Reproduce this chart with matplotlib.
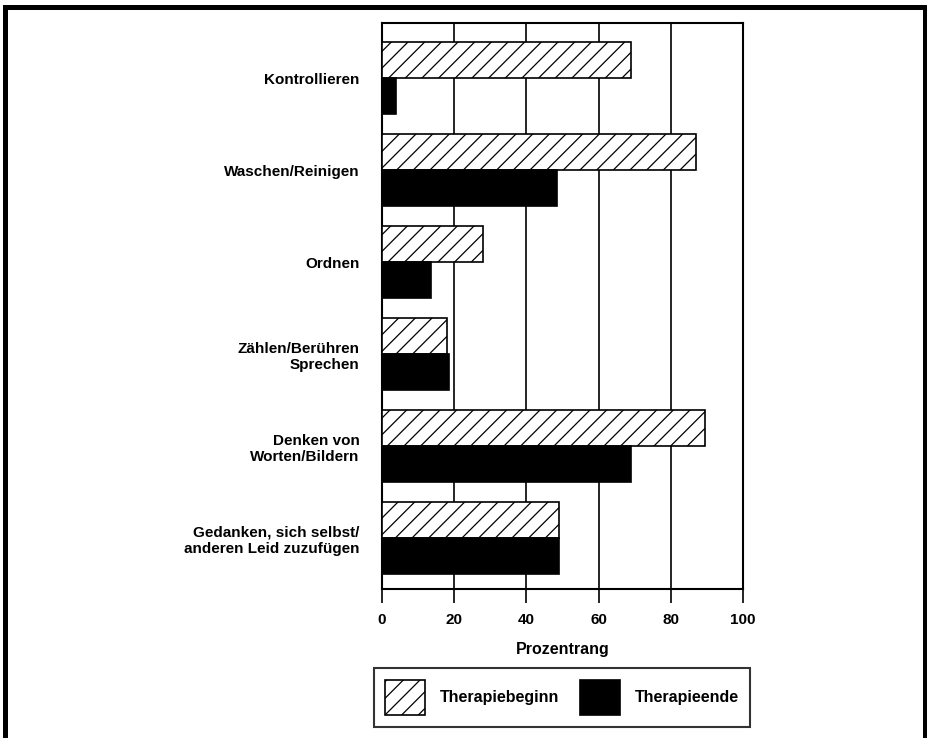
import matplotlib
matplotlib.use("Agg")
import matplotlib.pyplot as plt
from matplotlib.lines import Line2D
from matplotlib.patches import Patch
import numpy as np

plt.rcParams['font.family'] = ['Liberation Sans', 'DejaVu Sans']
plt.rcParams['font.weight'] = 'bold'
plt.rcParams['hatch.linewidth'] = 0.9
plt.rcParams['hatch.color'] = 'black'

# data
categories = ["Kontrollieren", "Waschen/Reinigen", "Ordnen",
              "Zählen/Berühren\nSprechen", "Denken von\nWorten/Bildern",
              "Gedanken, sich selbst/\nanderen Leid zuzufügen"]
beginn = [69, 87, 28, 18, 89.5, 49]
ende = [4, 48.5, 13.5, 18.5, 69, 49]
xticks = [0, 20, 40, 60, 80, 100]

fig = plt.figure(figsize=(9.28, 7.38), dpi=100)
ax = fig.add_axes([382/928, 1 - 589/738, (743 - 382)/928, (589 - 23)/738])

y = np.arange(len(categories))
h = 0.39
ax.barh(y - h/2, beginn, height=h, color='white', edgecolor='black',
        hatch='//', linewidth=1.2, zorder=3, label='Therapiebeginn')
ax.barh(y + h/2, ende, height=h, color='black', edgecolor='black',
        linewidth=1.2, zorder=3, label='Therapieende')

ax.set_xlim(0, 100)
ax.set_ylim(5.554, -0.598)
ax.set_xticks(xticks)
ax.set_yticks(y)
ax.set_yticklabels(categories, fontsize=11, ha='right')
ax.tick_params(axis='y', length=0, pad=16)
ax.tick_params(axis='x', length=10, width=1.2, labelsize=11, pad=7)
ax.xaxis.grid(True, color='black', linewidth=1.2)
ax.set_axisbelow(True)
for s in ax.spines.values():
    s.set_linewidth(1.5)
ax.set_xlabel("Prozentrang", fontsize=11.5, fontweight='bold', labelpad=11)

handles = [Patch(facecolor='white', edgecolor='black', hatch='//', linewidth=1.2),
           Patch(facecolor='black', edgecolor='black', linewidth=1.2)]
leg = fig.legend(handles, ['Therapiebeginn', 'Therapieende'], ncol=2,
                 loc='center', bbox_to_anchor=(562/928, 1 - 697.5/738),
                 fontsize=11.5, frameon=True, fancybox=False, shadow=False,
                 handlelength=2.5, handleheight=3.0, handletextpad=0.94,
                 columnspacing=1.25, borderpad=0.72, borderaxespad=0)
leg.get_frame().set_edgecolor('black')
leg.get_frame().set_linewidth(1.5)

# outer frame (open at the bottom)
lw = 3.6
fig.add_artist(Line2D([5/928, 5/928], [0, 1 - 7/738], color='black', lw=lw,
                      transform=fig.transFigure, solid_capstyle='projecting'))
fig.add_artist(Line2D([5/928, 925/928], [1 - 7/738, 1 - 7/738], color='black', lw=lw,
                      transform=fig.transFigure, solid_capstyle='projecting'))
fig.add_artist(Line2D([925/928, 925/928], [0, 1 - 7/738], color='black', lw=lw,
                      transform=fig.transFigure, solid_capstyle='projecting'))

fig.savefig("out.png", dpi=100)
